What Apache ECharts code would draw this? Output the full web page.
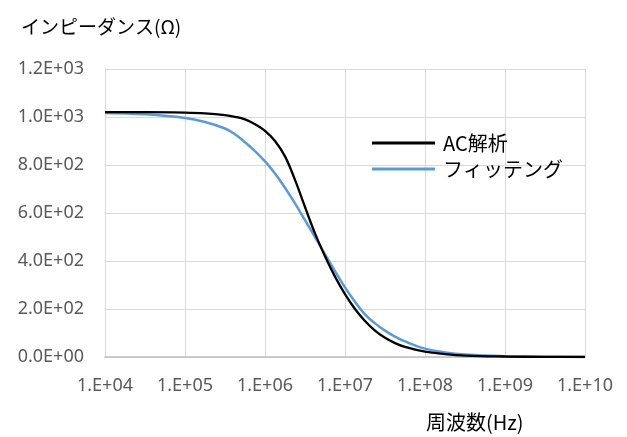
<!DOCTYPE html>
<html>
<head>
<meta charset="utf-8">
<script src="https://cdn.jsdelivr.net/npm/echarts@6/dist/echarts.min.js"></script>
<style>
  html, body { margin: 0; padding: 0; background: #fff; }
  #chart { width: 627px; height: 437px; }
</style>
</head>
<body>
<div id="chart"></div>
<script>
// Frequency samples, as log10(Hz)
const logFreq = [4.0, 4.5, 5.0, 5.25, 5.5, 5.625, 5.75, 5.875, 6.0, 6.125, 6.25, 6.375, 6.5, 6.625, 6.75, 6.875, 7.0, 7.125, 7.25, 7.375, 7.5, 7.625, 7.75, 8.0, 8.25, 8.5, 9.0, 9.5, 10.0];
// Impedance magnitude (Ω) from the AC analysis
const acAnalysis = [1020, 1020, 1018, 1015, 1008, 1001, 990, 970, 942, 900, 836, 738, 625, 515, 420, 335, 262, 200, 150, 110, 80, 58, 42, 22, 12, 6, 2, 0.5, 0];
// Impedance magnitude (Ω) of the fitted model
const fitting = [1017, 1011, 996, 979, 952, 928, 895, 858, 815, 765, 705, 640, 570, 500, 428, 358, 290, 230, 178, 140, 110, 85, 65, 35, 19, 10, 3, 1, 0];

const seriesNames = ['AC解析', 'フィッテング'];
const yTicks = { min: 0, max: 1200, step: 200 };
const xRange = { min: 1e4, max: 1e10 };

const toPairs = (vals) => logFreq.map((l, i) => [Math.pow(10, l), vals[i]]);

// Excel-style scientific labels, e.g. 1.2E+03
function sci(v, digits) {
  if (v === 0) return (0).toFixed(digits) + 'E+00';
  const s = v.toExponential(digits).toUpperCase();
  const m = s.match(/^(.*)E([+-])(\d+)$/);
  return m[1] + 'E' + m[2] + m[3].padStart(2, '0');
}
function xLabel(v) {
  const e = Math.round(Math.log10(v));
  return '1.E+' + String(e).padStart(2, '0');
}

const chart = echarts.init(document.getElementById('chart'), null, { renderer: 'canvas' });
const tickFont = 'Noto Sans';
const cjkFont = '"Noto Sans CJK JP", "Noto Sans", sans-serif';

chart.setOption({
  animation: false,
  backgroundColor: '#ffffff',
  title: [
    { text: 'インピーダンス(Ω)', left: 16, top: 12,
      textStyle: { fontFamily: cjkFont, fontSize: 19, fontWeight: 'normal', color: '#000' } },
    { text: '周波数(Hz)', left: 421, top: 407,
      textStyle: { fontFamily: cjkFont, fontSize: 20, fontWeight: 'normal', color: '#000' } }
  ],
  grid: { left: 105, right: 42, top: 69, bottom: 80, containLabel: false },
  legend: {
    orient: 'vertical',
    left: 367, top: 128,
    itemWidth: 63, itemHeight: 3, itemGap: 6,
    icon: 'rect',
    textStyle: { fontFamily: cjkFont, fontSize: 20, lineHeight: 20, color: '#000', padding: [0, 0, 0, 3] },
    data: seriesNames
  },
  xAxis: {
    type: 'log', logBase: 10, min: xRange.min, max: xRange.max,
    axisLine: { show: true, lineStyle: { color: '#bfbfbf', width: 1.5 } },
    axisTick: { show: false },
    splitLine: { show: true, lineStyle: { color: '#d9d9d9', width: 1 } },
    minorTick: { show: false }, minorSplitLine: { show: false },
    axisLabel: { formatter: xLabel, margin: 20, fontFamily: tickFont, fontSize: 18, color: '#595959' }
  },
  yAxis: {
    type: 'value', min: yTicks.min, max: yTicks.max, interval: yTicks.step,
    axisLine: { show: true, lineStyle: { color: '#d9d9d9', width: 1 } },
    axisTick: { show: false },
    splitLine: { show: true, lineStyle: { color: '#d9d9d9', width: 1 } },
    axisLabel: { formatter: (v) => sci(v, 1), margin: 21, fontFamily: tickFont, fontSize: 18, color: '#595959' }
  },
  series: [
    { name: seriesNames[0], type: 'line', data: toPairs(acAnalysis), smooth: 0.4,
      showSymbol: false, symbol: 'none', color: '#000000', lineStyle: { width: 2.3, color: '#000000' }, z: 3 },
    { name: seriesNames[1], type: 'line', data: toPairs(fitting), smooth: 0.4,
      showSymbol: false, symbol: 'none', color: '#5b9bd5', lineStyle: { width: 2.5, color: '#5b9bd5' }, z: 2 }
  ]
});
</script>
</body>
</html>
